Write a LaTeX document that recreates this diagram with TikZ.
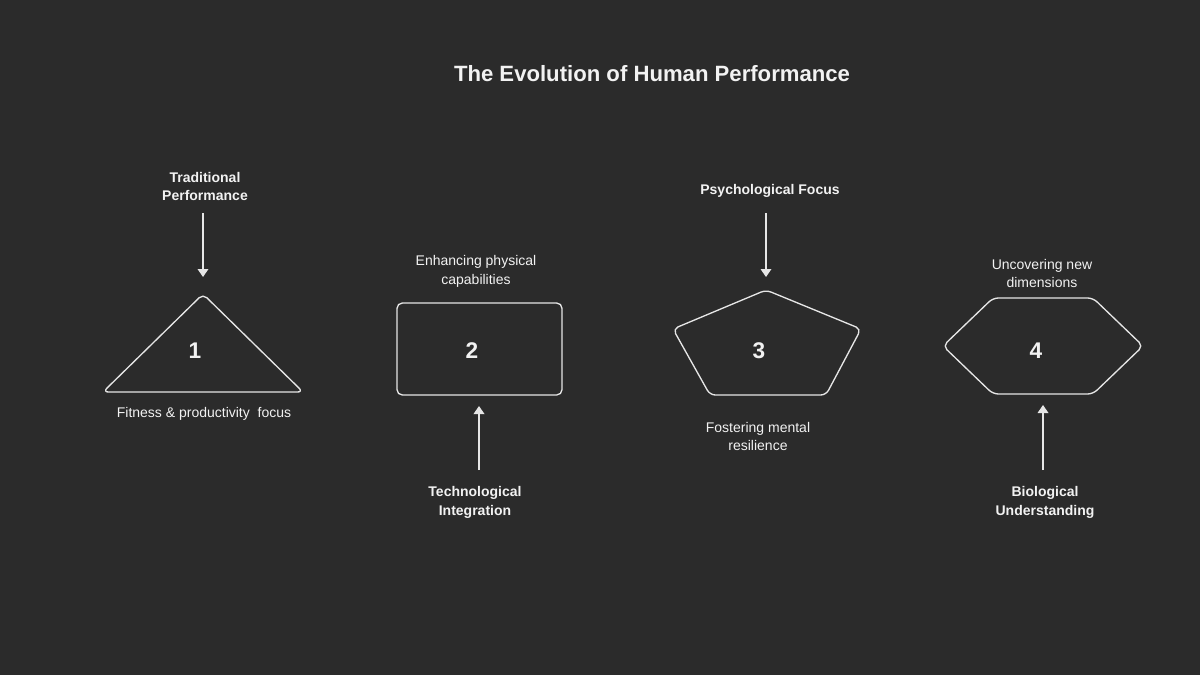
\documentclass[tikz,border=0pt]{standalone}
\usepackage{fontspec}
\setmainfont{Liberation Sans}
\usetikzlibrary{arrows.meta}
\definecolor{bg}{HTML}{2B2B2B}
\definecolor{fg}{HTML}{F2F2F2}
\definecolor{ln}{HTML}{E6E6E6}
\tikzset{
  shapeline/.style={draw=ln, line width=1pt, rounded corners=4pt},
  conn/.style={draw=ln, line width=1pt, -{Triangle[width=8pt,length=6pt]}},
  lbl/.style={text=fg, align=center, font=\fontsize{10.5}{14.2}\selectfont},
  blbl/.style={text=fg, align=center, font=\fontsize{10.5}{14.2}\selectfont\bfseries},
  num/.style={text=fg, font=\fontsize{17}{19}\selectfont\bfseries},
  ttl/.style={text=fg, font=\fontsize{16.6}{19}\selectfont\bfseries}
}
\begin{document}
\begin{tikzpicture}[x=0.75pt,y=-0.75pt]
\fill[bg] (0,0) rectangle (1200,675);
\useasboundingbox (0,0) rectangle (1200,675);

\node[ttl] (title) at (652,74) {The Evolution of Human Performance};

% Shape 1: triangle
\draw[shapeline] (203,294) -- (303,392) -- (103,392) -- cycle;
\node[num] (n1) at (195,351) {1};
\node[blbl] (t1) at (205,186.5) {Traditional\\Performance};
\node[lbl] (d1) at (204,413.5) {Fitness \& productivity\ \ focus};
\coordinate (a1s) at (203,213);
\coordinate (a1e) at (203,277);
\draw[conn] (a1s) -- (a1e);

% Shape 2: rectangle
\draw[shapeline] (397,303) rectangle (562,395);
\node[num] (n2) at (472,351) {2};
\node[lbl] (d2) at (476,271.5) {Enhancing physical\\capabilities};
\node[blbl] (t2) at (475,502.5) {Technological\\Integration};
\coordinate (a2s) at (479,470);
\coordinate (a2e) at (479,406);
\draw[conn] (a2s) -- (a2e);

% Shape 3: pentagon
\draw[shapeline] (766,290) -- (861,329) -- (826,395) -- (710,395) -- (673,329) -- cycle;
\node[num] (n3) at (759,351) {3};
\node[blbl] (t3) at (770,190.5) {Psychological Focus};
\node[lbl] (d3) at (758,436.5) {Fostering mental\\resilience};
\coordinate (a3s) at (766,213);
\coordinate (a3e) at (766,277);
\draw[conn] (a3s) -- (a3e);

% Shape 4: hexagon
\draw[shapeline] (943,346) -- (993,298) -- (1093,298) -- (1143,346) -- (1093,394) -- (993,394) -- cycle;
\node[num] (n4) at (1036,351) {4};
\node[lbl] (d4) at (1042,273.5) {Uncovering new\\dimensions};
\node[blbl] (t4) at (1045,502.5) {Biological\\Understanding};
\coordinate (a4s) at (1043,470);
\coordinate (a4e) at (1043,405);
\draw[conn] (a4s) -- (a4e);
\end{tikzpicture}
\end{document}
